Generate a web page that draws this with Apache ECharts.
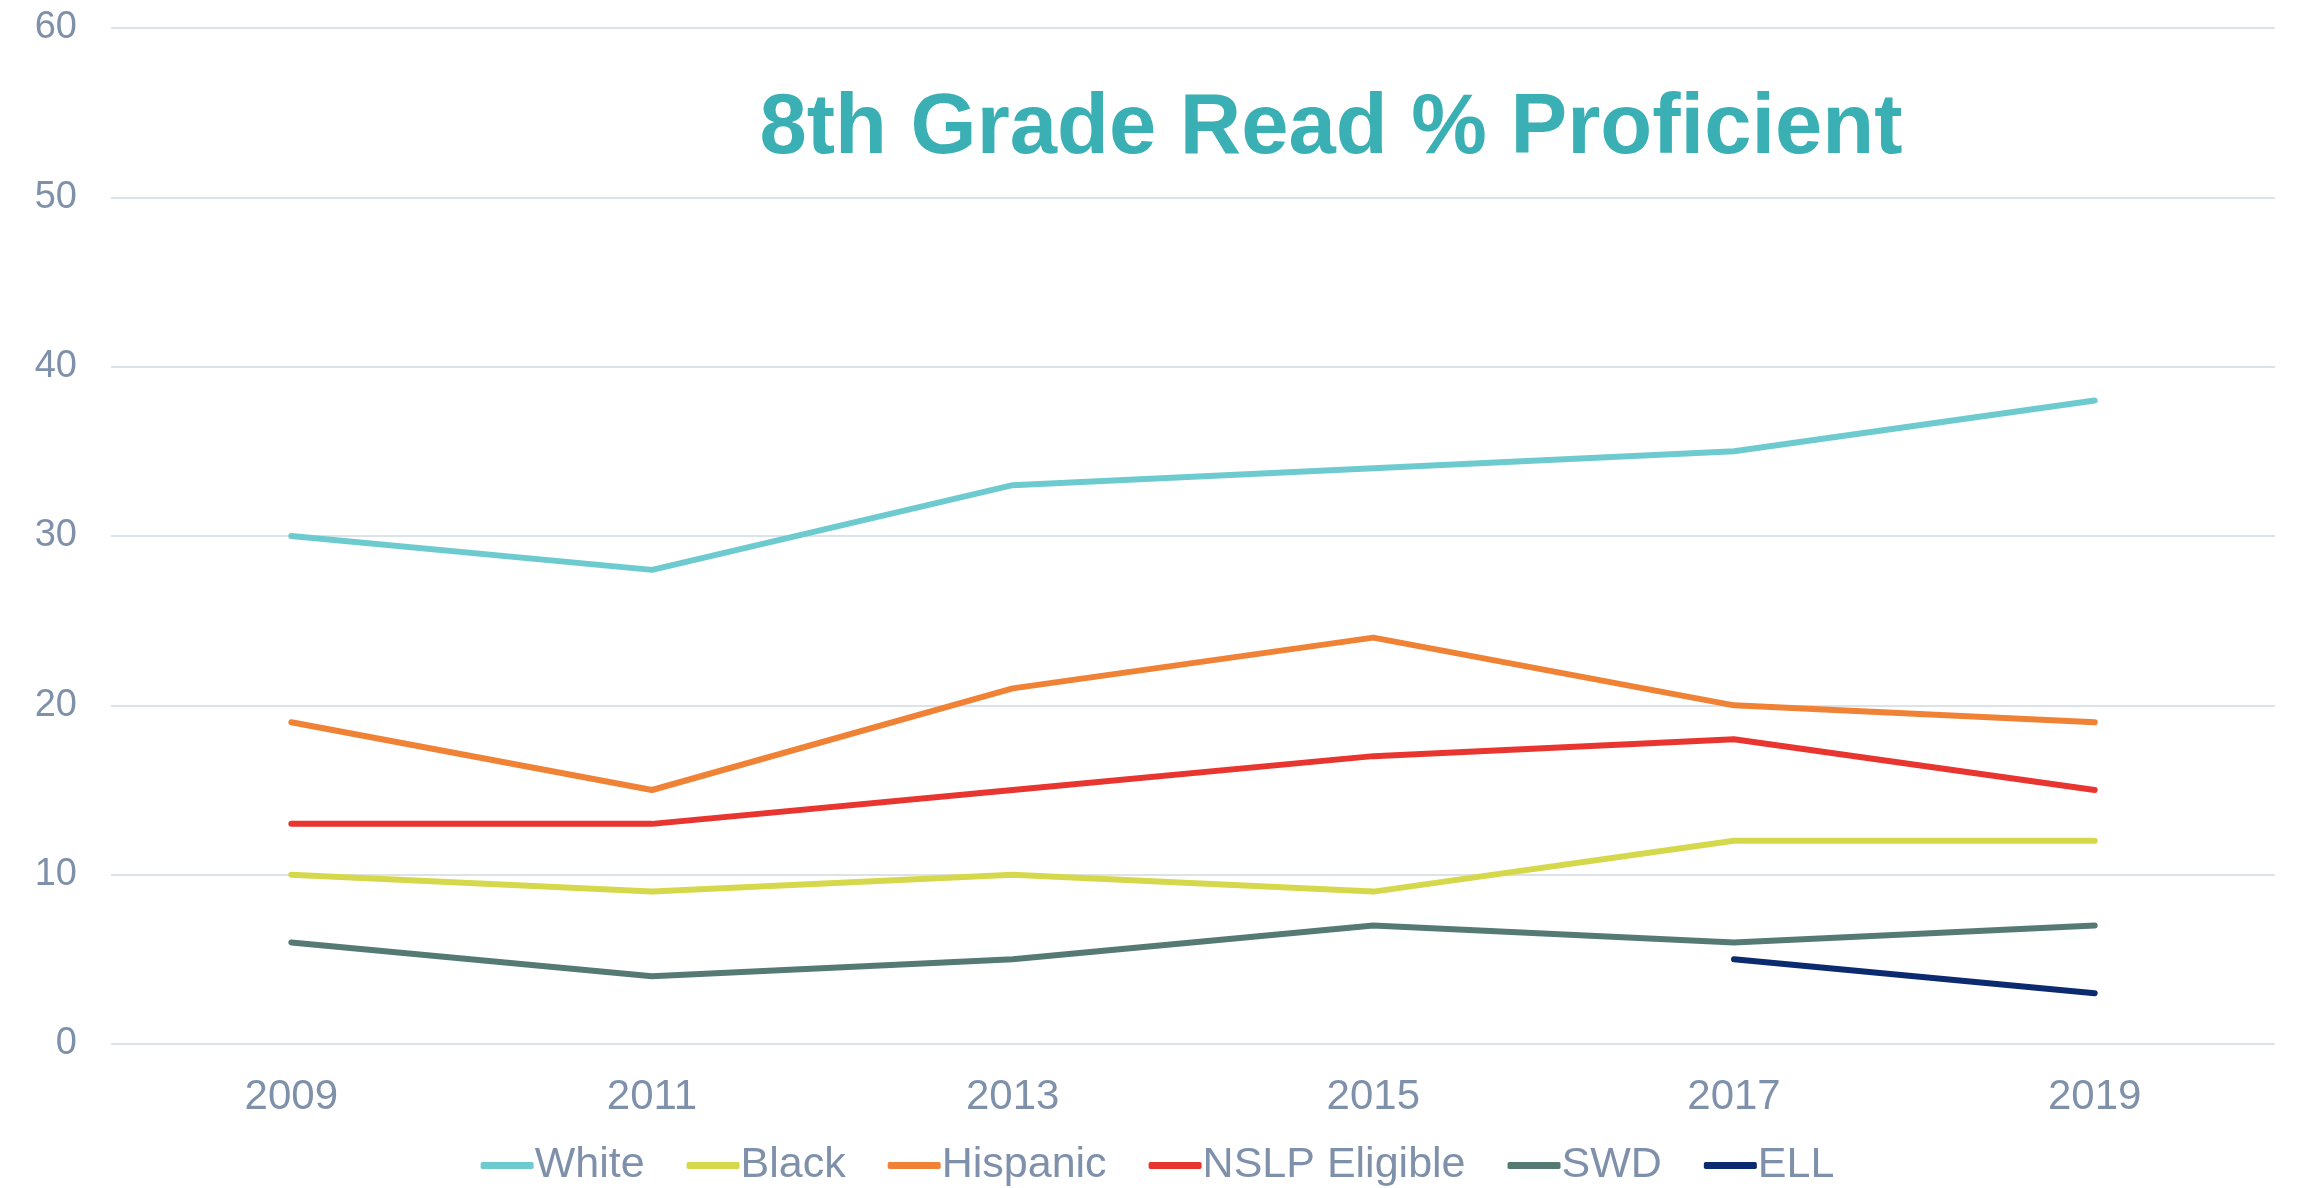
<!DOCTYPE html>
<html>
<head>
<meta charset="utf-8">
<script src="https://cdn.jsdelivr.net/npm/echarts@6/dist/echarts.min.js"></script>
<style>
  html, body { margin: 0; padding: 0; background: #fff; }
</style>
</head>
<body>
<div id="main" style="width: 2315px;height:1188px;"></div>
<script>
var years = ['2009', '2011', '2013', '2015', '2017', '2019'];
var white = [30, 28, 33, 34, 35, 38];
var black = [10, 9, 10, 9, 12, 12];
var hispanic = [19, 15, 21, 24, 20, 19];
var nslp = [13, 13, 15, 17, 18, 15];
var swd = [6, 4, 5, 7, 6, 7];
var ell = [null, null, null, null, 5, 3];

var labelColor = '#7f91aa';

function line(name, data, color) {
  return {
    name: name,
    type: 'line',
    data: data,
    symbol: 'none',
    color: color,
    lineStyle: { width: 6, color: color, cap: 'round', join: 'round' }
  };
}

var myChart = echarts.init(document.getElementById('main'));
var option = {
  animation: false,
  title: {
    text: '8th Grade Read % Proficient',
    left: 1326,
    top: 125,
    textAlign: 'center',
    textVerticalAlign: 'middle',
    textStyle: {
      fontFamily: 'Liberation Sans',
      fontSize: 85,
      fontWeight: 'bold',
      color: '#3aafb4'
    }
  },
  legend: {
    top: 1139,
    left: 'center',
    itemWidth: 53,
    itemHeight: 7,
    itemGap: 42,
    icon: 'roundRect',
    textStyle: {
      fontFamily: 'Liberation Sans',
      fontSize: 43,
      color: labelColor,
      padding: [0, 0, 0, -4]
    }
  },
  grid: {
    left: 111,
    right: 40,
    top: 28,
    bottom: 144
  },
  xAxis: {
    type: 'category',
    data: years,
    axisLine: { show: false },
    axisTick: { show: false },
    axisLabel: {
      fontFamily: 'Liberation Sans',
      fontSize: 42,
      color: labelColor,
      margin: 32
    }
  },
  yAxis: {
    type: 'value',
    min: 0,
    max: 60,
    interval: 10,
    axisLine: { show: false },
    axisTick: { show: false },
    axisLabel: {
      fontFamily: 'Liberation Sans',
      fontSize: 38,
      color: labelColor,
      margin: 34
    },
    splitLine: { lineStyle: { color: '#dde1e8', width: 2 } }
  },
  series: [
    line('White', white, '#6dcbcf'),
    line('Black', black, '#d6d84c'),
    line('Hispanic', hispanic, '#f08236'),
    line('NSLP Eligible', nslp, '#e8352f'),
    line('SWD', swd, '#557a74'),
    line('ELL', ell, '#0b2a70')
  ]
};
myChart.setOption(option);
window.addEventListener('resize', function () {
  myChart.resize();
});
</script>
</body>
</html>
